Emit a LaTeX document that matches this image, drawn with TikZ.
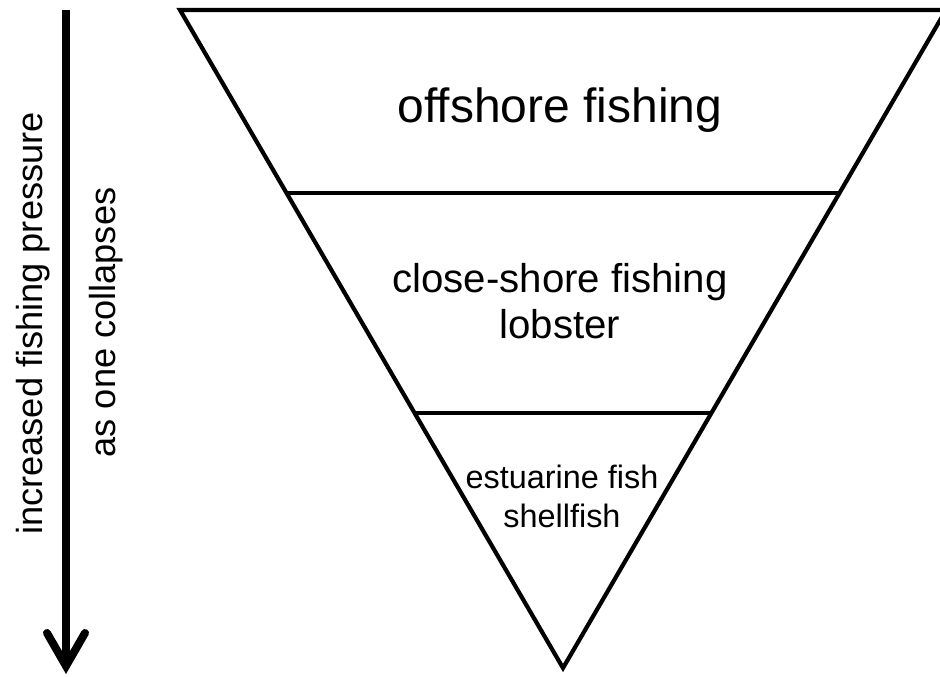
\documentclass[tikz,border=0pt]{standalone}
\usepackage{fontspec}
\setmainfont{Liberation Sans}
\usetikzlibrary{calc}
\tikzset{
  edge/.style={line width=4.2pt, line join=miter},
  sep/.style={line width=4pt},
  lbl/.style={inner sep=0pt, anchor=base},
}
\begin{document}
\begin{tikzpicture}[x=1pt,y=-1pt]
\useasboundingbox (0,0) rectangle (940,677);
% arrow
\coordinate (atop) at (66,10);
\coordinate (abot) at (66,666);
\coordinate (bl) at (47,633);
\coordinate (br) at (85,633);
\draw[line width=8.5pt] (atop) -- ($(abot)+(0,-6)$);
\draw[line width=8pt, line cap=round, line join=miter] (bl) -- (abot) -- (br);
% triangle
\coordinate (tl) at (180,10);
\coordinate (tr) at (946,10);
\coordinate (apex) at (563,668);
\draw[edge] (tl) -- (tr) -- (apex) -- cycle;
\coordinate (l1) at ($(tl)!0.2781!(apex)$);
\coordinate (r1) at ($(tr)!0.2781!(apex)$);
\coordinate (l2) at ($(tl)!0.6125!(apex)$);
\coordinate (r2) at ($(tr)!0.6125!(apex)$);
\draw[sep] (l1) -- (r1);
\draw[sep] (l2) -- (r2);
% labels
\node[lbl, font=\fontsize{48}{56}\selectfont] (off) at (560,122) {offshore fishing};
\node[lbl, font=\fontsize{40.2}{46}\selectfont] (close) at (560,292) {close-shore fishing};
\node[lbl, font=\fontsize{40.2}{46}\selectfont] (lob) at (560,338) {lobster};
\node[lbl, font=\fontsize{32.4}{39}\selectfont] (est) at (562,488) {estuarine fish};
\node[lbl, font=\fontsize{32.4}{39}\selectfont] (shell) at (562,527) {shellfish};
\node[lbl, rotate=90, font=\fontsize{36.2}{42}\selectfont] (press) at (42,323.5) {increased fishing pressure};
\node[lbl, rotate=90, font=\fontsize{36.2}{42}\selectfont] (coll) at (115,322.5) {as one collapses};
\end{tikzpicture}
\end{document}
